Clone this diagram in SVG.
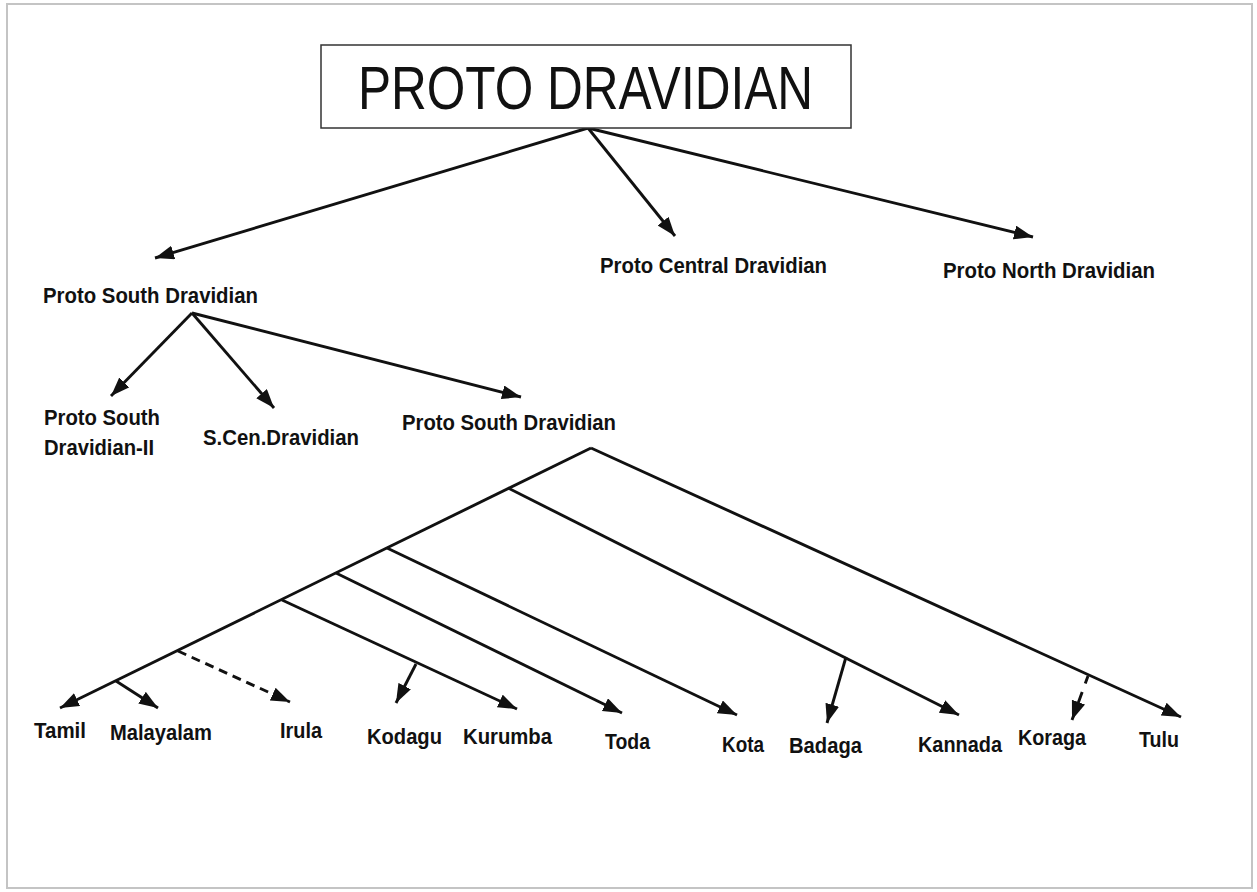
<svg xmlns="http://www.w3.org/2000/svg" width="1257" height="892" viewBox="0 0 1257 892">
<style>
.lbl{font-family:"Liberation Sans",Arial,sans-serif;font-weight:bold;font-size:22px;fill:#111}
.title{font-family:"Liberation Sans",Arial,sans-serif;font-size:62px;fill:#111}
.ln{stroke:#111;stroke-width:2.9;fill:none}
.arr{marker-end:url(#ah)}
.dash1{stroke-dasharray:9 6}
.dash2{stroke-dasharray:8 9 60}
</style>
<defs>
<marker id="ah" markerUnits="userSpaceOnUse" markerWidth="20" markerHeight="15" refX="19" refY="7" orient="auto">
<path d="M0,0 L19,7 L0,14 Z" fill="#111"/>
</marker>
</defs>
<rect x="0" y="0" width="1257" height="892" fill="#ffffff"/>
<rect x="7" y="4" width="1245" height="884" fill="#ffffff" stroke="#c4c4c4" stroke-width="2"/>

<g id="connectors">
<path class="ln arr" d="M588,128 L155,258"/>
<path class="ln arr" d="M588,128 L675,236"/>
<path class="ln arr" d="M588,128 L1033,237"/>
<path class="ln arr" d="M192,313 L111,396"/>
<path class="ln arr" d="M192,313 L274,408"/>
<path class="ln arr" d="M192,313 L521,397"/>
<path class="ln arr" d="M591,448 L60,708"/>
<path class="ln arr" d="M591,448 L1181,717"/>
<path class="ln arr" d="M508,488 L959,715"/>
<path class="ln arr" d="M387,548 L737,715"/>
<path class="ln arr" d="M336,573 L622,713"/>
<path class="ln arr" d="M282,600 L517,709"/>
<path class="ln arr dash1" d="M178,651 L290,702"/>
<path class="ln arr" d="M116,681 L158,708"/>
<path class="ln arr" d="M416,664 L396,703"/>
<path class="ln arr" d="M846,657 L827,723"/>
<path class="ln arr dash2" d="M1088,676 L1072,720"/>
</g>

<g id="proto-dravidian">
<rect x="321" y="45" width="530" height="83" fill="#ffffff" stroke="#333" stroke-width="1.5"/>
<text class="title" x="358" y="109" textLength="455" lengthAdjust="spacingAndGlyphs">PROTO DRAVIDIAN</text>
</g>
<g id="proto-south-dravidian"><text class="lbl" x="43" y="303" textLength="215" lengthAdjust="spacingAndGlyphs">Proto South Dravidian</text></g>
<g id="proto-central-dravidian"><text class="lbl" x="600" y="273" textLength="227" lengthAdjust="spacingAndGlyphs">Proto Central Dravidian</text></g>
<g id="proto-north-dravidian"><text class="lbl" x="943" y="278" textLength="212" lengthAdjust="spacingAndGlyphs">Proto North Dravidian</text></g>
<g id="proto-south-dravidian-ii"><text class="lbl" x="44" y="425" textLength="116" lengthAdjust="spacingAndGlyphs">Proto South</text><text class="lbl" x="44" y="455" textLength="110" lengthAdjust="spacingAndGlyphs">Dravidian-II</text></g>
<g id="s-cen-dravidian"><text class="lbl" x="203" y="445" textLength="156" lengthAdjust="spacingAndGlyphs">S.Cen.Dravidian</text></g>
<g id="proto-south-dravidian-2"><text class="lbl" x="402" y="430" textLength="214" lengthAdjust="spacingAndGlyphs">Proto South Dravidian</text></g>
<g id="tamil"><text class="lbl" x="34" y="738" textLength="52" lengthAdjust="spacingAndGlyphs">Tamil</text></g>
<g id="malayalam"><text class="lbl" x="110" y="740" textLength="102" lengthAdjust="spacingAndGlyphs">Malayalam</text></g>
<g id="irula"><text class="lbl" x="280" y="738" textLength="42" lengthAdjust="spacingAndGlyphs">Irula</text></g>
<g id="kodagu"><text class="lbl" x="367" y="744" textLength="75" lengthAdjust="spacingAndGlyphs">Kodagu</text></g>
<g id="kurumba"><text class="lbl" x="463" y="744" textLength="89" lengthAdjust="spacingAndGlyphs">Kurumba</text></g>
<g id="toda"><text class="lbl" x="605" y="749" textLength="45" lengthAdjust="spacingAndGlyphs">Toda</text></g>
<g id="kota"><text class="lbl" x="722" y="752" textLength="42" lengthAdjust="spacingAndGlyphs">Kota</text></g>
<g id="badaga"><text class="lbl" x="789" y="753" textLength="73" lengthAdjust="spacingAndGlyphs">Badaga</text></g>
<g id="kannada"><text class="lbl" x="918" y="752" textLength="84" lengthAdjust="spacingAndGlyphs">Kannada</text></g>
<g id="koraga"><text class="lbl" x="1018" y="745" textLength="68" lengthAdjust="spacingAndGlyphs">Koraga</text></g>
<g id="tulu"><text class="lbl" x="1139" y="747" textLength="40" lengthAdjust="spacingAndGlyphs">Tulu</text></g>
</svg>
